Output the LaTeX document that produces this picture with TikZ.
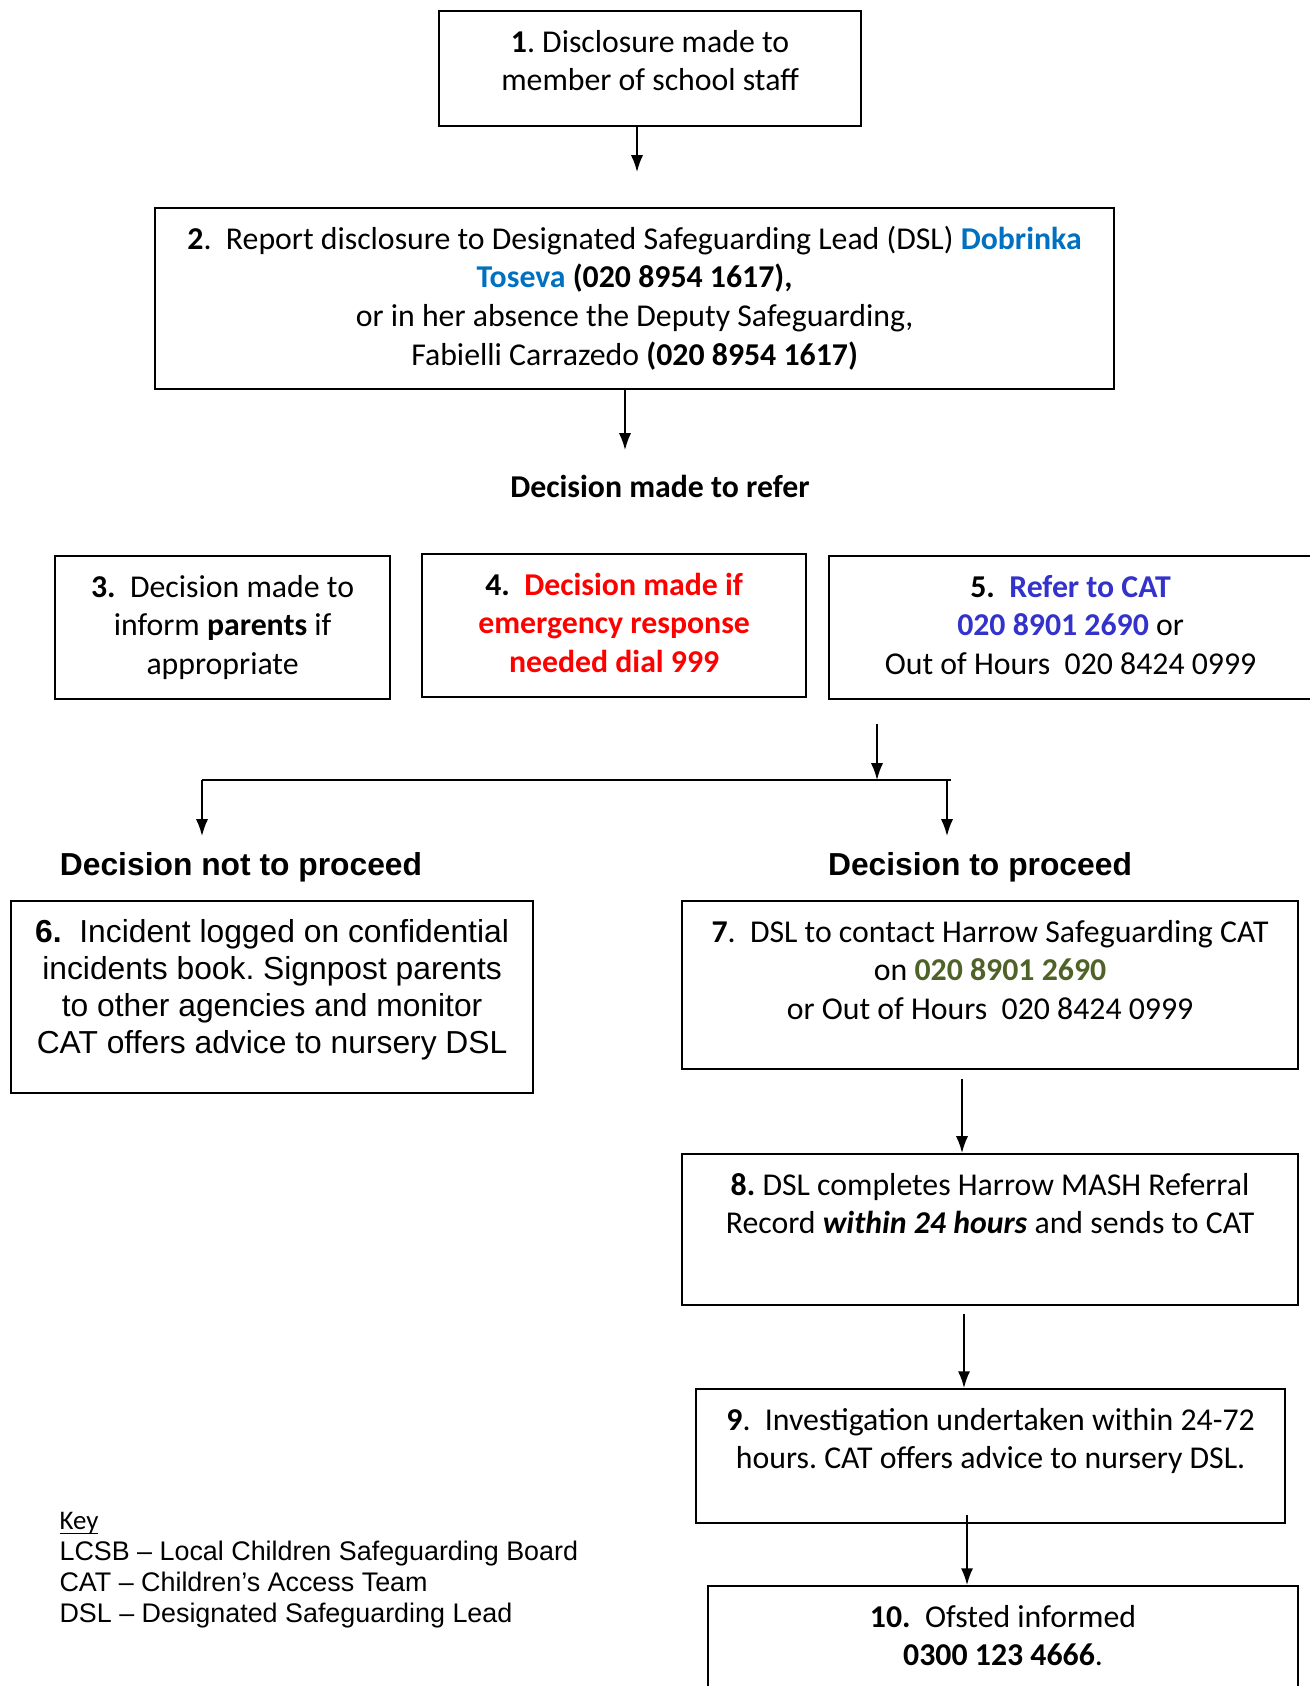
\documentclass[tikz,border=0pt]{standalone}
\usepackage{fontspec}
\setmainfont{Carlito}
\newfontfamily\arialfont{Liberation Sans}
\usepackage{tikz}
\usetikzlibrary{arrows.meta}
\frenchspacing

\definecolor{dslblue}{HTML}{0070C0}
\definecolor{catblue}{HTML}{3333CC}
\definecolor{alertred}{HTML}{FF0000}
\definecolor{phonegreen}{HTML}{4F6228}

% box text: width, height, text (first baseline 14.2pt below the top)
\newcommand{\boxtext}[3]{\begin{minipage}[t][#2][t]{#1}\centering\rule{0pt}{14.2pt}#3\end{minipage}}

\begin{document}
\begin{tikzpicture}[x=0.346pt, y=-0.346pt,
    box/.style={draw, line width=0.75pt, inner sep=0pt, anchor=north west,
        font=\fontsize{11}{13.4}\selectfont},
    arialbox/.style={box, font=\arialfont\fontsize{11}{12.8}\selectfont},
    head/.style={font=\arialfont\bfseries\fontsize{11}{13}\selectfont},
    arr/.style={line width=0.6pt, -{Latex[length=5.8pt, width=4.2pt]}}]
    \useasboundingbox (0,0) rectangle (1309,1686);

    \node[box] (b1) at (438,10) {\boxtext{146pt}{39.8pt}{\textbf{1}. Disclosure made to\\member of school staff}};
    \node[box] (b2) at (154,207) {\boxtext{331.8pt}{62.6pt}{\textbf{2}.\ \ Report disclosure to Designated Safeguarding Lead (DSL) \textcolor{dslblue}{\textbf{Dobrinka}}\\\textcolor{dslblue}{\textbf{Toseva}} \textbf{(020 8954 1617),}\\or in her absence the Deputy Safeguarding,\\Fabielli Carrazedo \textbf{(020 8954 1617)}}};
    \node[font=\bfseries\fontsize{11}{13.4}\selectfont] (refer) at (660,486) {Decision made to refer};

    \node[box] (b3) at (54,555) {\boxtext{115.9pt}{49.5pt}{\textbf{3.}\ \ Decision made to\\inform \textbf{parents} if\\appropriate}};
    \node[box] (b4) at (421,553) {\boxtext{132.9pt}{49.5pt}{\textbf{4.}\ \ \textcolor{alertred}{\textbf{Decision made if}}\\\textcolor{alertred}{\textbf{emergency response}}\\\textcolor{alertred}{\textbf{needed dial 999}}}};
    \node[box] (b5) at (828,555) {\boxtext{167.1pt}{49.5pt}{\textbf{5.}\ \ \textcolor{catblue}{\textbf{Refer to CAT}}\\\textcolor{catblue}{\textbf{020 8901 2690}} or\\Out of Hours\ \ 020 8424 0999}};

    \node[head] (noproc) at (241,867) {Decision not to proceed};
    \node[head] (proc) at (980,867) {Decision to proceed};

    \node[arialbox] (b6) at (10,900) {\boxtext{180.6pt}{66.4pt}{\textbf{6.}\ \ Incident logged on confidential\\incidents book. Signpost parents\\to other agencies and monitor\\CAT offers advice to nursery DSL}};
    \node[box] (b7) at (681,900) {\boxtext{213.1pt}{58.1pt}{\textbf{7}.\ \ DSL to contact Harrow Safeguarding CAT\\on \textcolor{phonegreen}{\textbf{020 8901 2690}}\\or Out of Hours\ \ 020 8424 0999}};
    \node[box] (b8) at (681,1153) {\boxtext{213.1pt}{52.2pt}{\textbf{8.} DSL completes Harrow MASH Referral\\Record \textbf{\textit{within 24 hours}} and sends to CAT}};
    \node[box] (b9) at (695,1388) {\boxtext{203.8pt}{46.4pt}{\textbf{9}.\ \ Investigation undertaken within 24-72\\hours. CAT offers advice to nursery DSL.}};
    \node[box] (b10) at (707,1585) {\boxtext{204.1pt}{45pt}{\textbf{10.}\ \ Ofsted informed\\\textbf{0300 123 4666}.}};

    \node[anchor=north west, align=left, inner sep=0pt, font=\arialfont\fontsize{9.3}{10.7}\selectfont] (key) at (59,1512)
        {{\rmfamily\underline{\raisebox{0pt}[\height][0pt]{Key}}}\\LCSB – Local Children Safeguarding Board\\CAT – Children’s Access Team\\DSL – Designated Safeguarding Lead};

    % arrows
    \coordinate (d1) at (637,172);
    \coordinate (d2) at (625,450);
    \draw[arr] (b1.south -| d1) -- (d1);
    \draw[arr] (b2.south -| d2) -- (d2);

    \coordinate (s1) at (877,780);
    \coordinate (sl) at (202,780);
    \coordinate (sr) at (951,780);
    \coordinate (nl) at (202,836);
    \coordinate (nr) at (947,836);
    \draw[arr, shorten <=8.3pt] (b5.south -| s1) -- (s1);
    \draw[line width=0.6pt] (sl) -- (sr);
    \draw[arr] (sl) -- (nl);
    \draw[arr] (nr |- sl) -- (nr);

    \foreach \a/\b/\x/\g in {b7/b8/962/3.1pt, b8/b9/964/2.8pt, b9/b10/967/-3.1pt}
        \draw[arr, shorten <=\g] (\a.south -| \x,0) -- (\b.north -| \x,0);
\end{tikzpicture}
\end{document}
